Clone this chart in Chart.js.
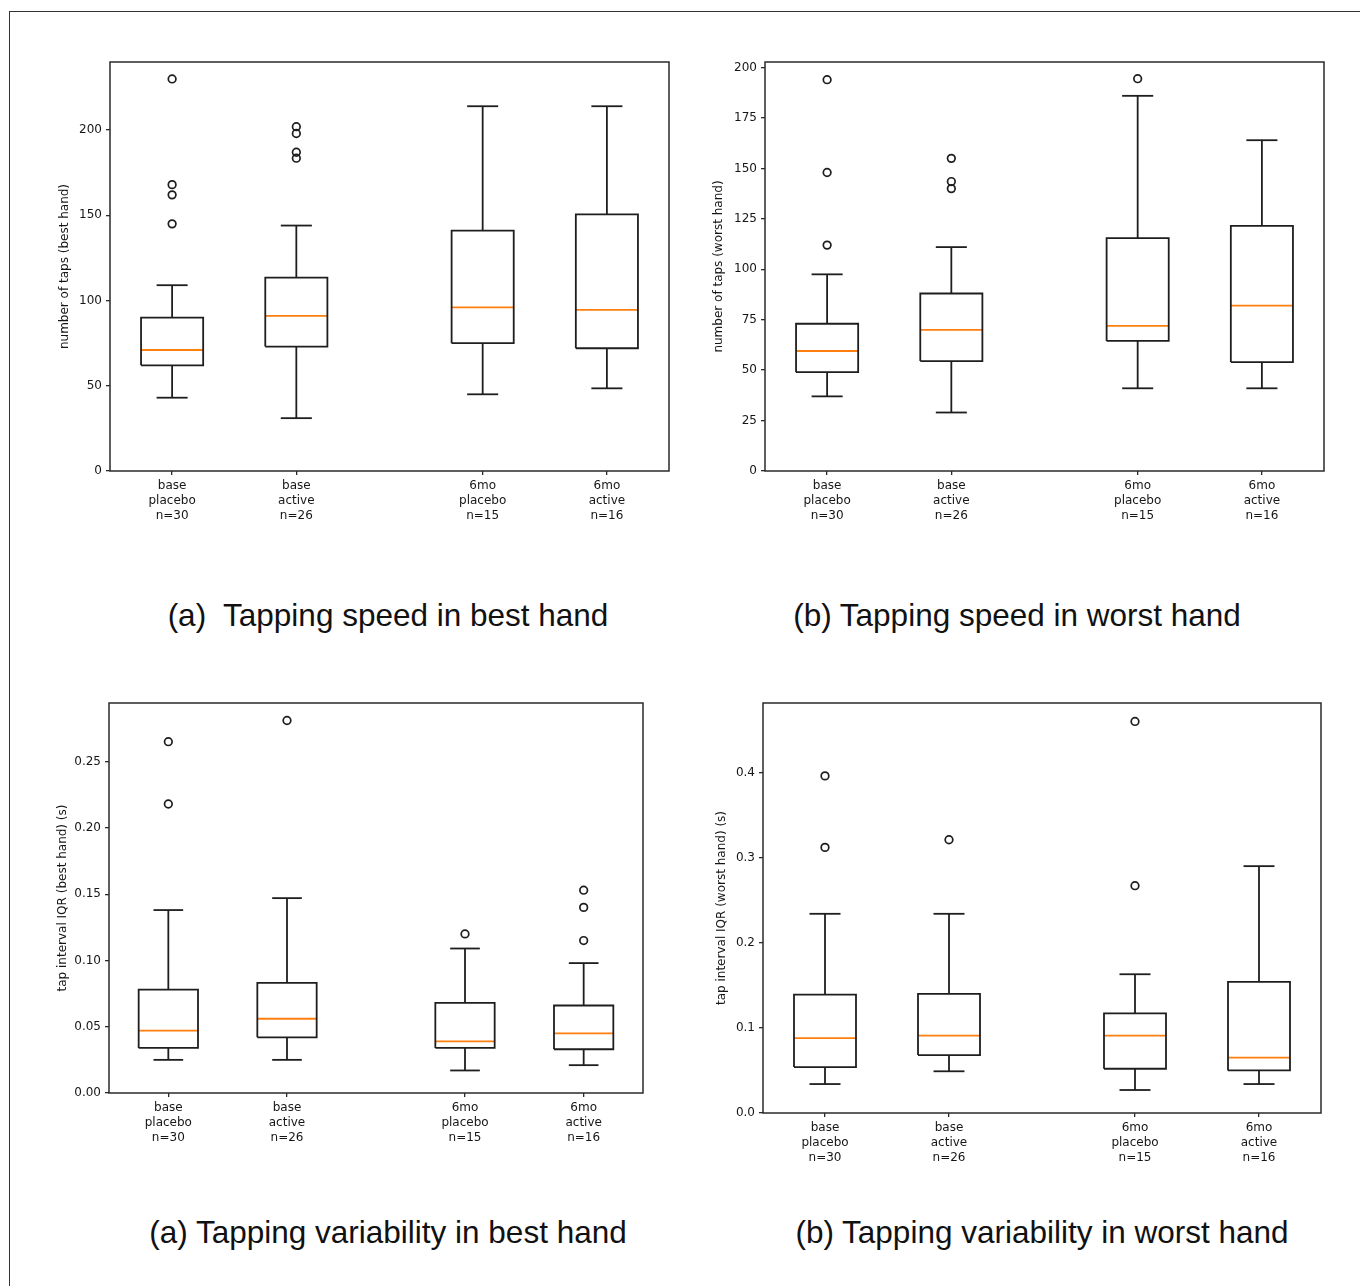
<!DOCTYPE html>
<html><head><meta charset="utf-8">
<script src="https://cdn.jsdelivr.net/npm/chart.js@4.4.0/dist/chart.umd.min.js"></script>
<style>
html,body{margin:0;padding:0;background:#fff}
body{width:1360px;height:1286px;overflow:hidden;position:relative;font-family:"Liberation Sans",Arial,sans-serif}
#frame{position:absolute;left:9px;top:11px;width:1400px;height:1400px;border-top:1.5px solid #333;border-left:1.5px solid #333}
.cap{position:absolute;width:700px;text-align:center;font-size:31.5px;line-height:36px;color:#111;white-space:pre}
canvas{position:absolute}
</style></head><body>
<div id="frame"></div>
<canvas id="c0"></canvas><canvas id="c1"></canvas><canvas id="c2"></canvas><canvas id="c3"></canvas>
<div class="cap" style="left:38px;top:597px">(a)  Tapping speed in best hand</div>
<div class="cap" style="left:667px;top:597px">(b) Tapping speed in worst hand</div>
<div class="cap" style="left:38px;top:1214px">(a) Tapping variability in best hand</div>
<div class="cap" style="left:692px;top:1214px">(b) Tapping variability in worst hand</div>
<script>
// ---- categories ----
const positions = [1, 2, 3.5, 4.5];
const groupTime = ['base', 'base', '6mo', '6mo'];
const groupArm  = ['placebo', 'active', 'placebo', 'active'];
const groupN    = [30, 26, 15, 16];

// ---- (a) tapping speed, best hand ----
const speedBestLo  = [43, 31, 45, 48.5];
const speedBestQ1  = [62, 73, 75, 72];
const speedBestMed = [71, 91, 96, 94.5];
const speedBestQ3  = [90, 113.5, 141, 150.5];
const speedBestHi  = [109, 144, 214, 214];
const speedBestOut = [[230, 168, 162, 145], [202, 198, 187, 183.5], [], []];
const speedBestTicks = [0, 50, 100, 150, 200];

// ---- (b) tapping speed, worst hand ----
const speedWorstLo  = [37, 29, 41, 41];
const speedWorstQ1  = [49, 54.5, 64.5, 54];
const speedWorstMed = [59.5, 70, 72, 82];
const speedWorstQ3  = [73, 88, 115.5, 121.5];
const speedWorstHi  = [97.5, 111, 186, 164];
const speedWorstOut = [[194, 148, 112], [155, 143.5, 140], [194.5], []];
const speedWorstTicks = [0, 25, 50, 75, 100, 125, 150, 175, 200];

// ---- (a) tapping variability, best hand ----
const varBestLo  = [0.025, 0.025, 0.017, 0.021];
const varBestQ1  = [0.034, 0.042, 0.034, 0.033];
const varBestMed = [0.047, 0.056, 0.039, 0.045];
const varBestQ3  = [0.078, 0.083, 0.068, 0.066];
const varBestHi  = [0.138, 0.147, 0.109, 0.098];
const varBestOut = [[0.265, 0.218], [0.281], [0.120], [0.153, 0.140, 0.115]];
const varBestTicks = [0, 0.05, 0.10, 0.15, 0.20, 0.25];

// ---- (b) tapping variability, worst hand ----
const varWorstLo  = [0.034, 0.049, 0.027, 0.034];
const varWorstQ1  = [0.054, 0.068, 0.052, 0.050];
const varWorstMed = [0.088, 0.091, 0.091, 0.065];
const varWorstQ3  = [0.139, 0.140, 0.117, 0.154];
const varWorstHi  = [0.234, 0.234, 0.163, 0.290];
const varWorstOut = [[0.396, 0.312], [0.321], [0.460, 0.267], []];
const varWorstTicks = [0, 0.1, 0.2, 0.3, 0.4];

const panels = [
  {id:'c0', area:{l:110,t:62,r:669,b:471}, lo:speedBestLo, q1:speedBestQ1, med:speedBestMed, q3:speedBestQ3, hi:speedBestHi, out:speedBestOut, ticks:speedBestTicks, dec:0, title:'number of taps (best hand)', titleOff:25},
  {id:'c1', area:{l:765,t:62,r:1324,b:471}, lo:speedWorstLo, q1:speedWorstQ1, med:speedWorstMed, q3:speedWorstQ3, hi:speedWorstHi, out:speedWorstOut, ticks:speedWorstTicks, dec:0, title:'number of taps (worst hand)', titleOff:24},
  {id:'c2', area:{l:109,t:703,r:643,b:1093}, lo:varBestLo, q1:varBestQ1, med:varBestMed, q3:varBestQ3, hi:varBestHi, out:varBestOut, ticks:varBestTicks, dec:2, title:'tap interval IQR (best hand) (s)', titleOff:23.7},
  {id:'c3', area:{l:763,t:703,r:1321,b:1113}, lo:varWorstLo, q1:varWorstQ1, med:varWorstMed, q3:varWorstQ3, hi:varWorstHi, out:varWorstOut, ticks:varWorstTicks, dec:1, title:'tap interval IQR (worst hand) (s)', titleOff:29.3}
];

const LINE = '#1e1e1e';
const MED = '#ff7f0e';
const HW = 0.25, CAP = 0.125;
const PADL = 70, PADT = 20, PADR = 20, PADB = 70;

const framePlugin = {
  id: 'frame',
  afterDatasetsDraw(chart) {
    const {ctx, chartArea: a} = chart;
    ctx.save();
    ctx.strokeStyle = '#2a2a2a';
    ctx.lineWidth = 1.5;
    ctx.strokeRect(a.left, a.top, a.right - a.left, a.bottom - a.top);
    ctx.restore();
  }
};

function lineDs(pts, color) {
  return {type:'scatter', data:pts, showLine:true, borderColor:color, borderWidth:1.8,
          pointRadius:0, pointHoverRadius:0, fill:false, tension:0, spanGaps:false};
}

panels.forEach(p => {
  const cv = document.getElementById(p.id);
  const w = p.area.r - p.area.l + PADL + PADR;
  const h = p.area.b - p.area.t + PADT + PADB;
  cv.width = w; cv.height = h;
  cv.style.left = (p.area.l - PADL) + 'px';
  cv.style.top = (p.area.t - PADT) + 'px';
  cv.style.width = w + 'px'; cv.style.height = h + 'px';

  const datasets = [];
  positions.forEach((x, i) => {
    datasets.push(lineDs([
      {x:x-HW, y:p.q1[i]}, {x:x+HW, y:p.q1[i]}, {x:x+HW, y:p.q3[i]}, {x:x-HW, y:p.q3[i]}, {x:x-HW, y:p.q1[i]}
    ], LINE));
    datasets.push(lineDs([{x:x, y:p.q3[i]}, {x:x, y:p.hi[i]}], LINE));
    datasets.push(lineDs([{x:x-CAP, y:p.hi[i]}, {x:x+CAP, y:p.hi[i]}], LINE));
    datasets.push(lineDs([{x:x, y:p.q1[i]}, {x:x, y:p.lo[i]}], LINE));
    datasets.push(lineDs([{x:x-CAP, y:p.lo[i]}, {x:x+CAP, y:p.lo[i]}], LINE));
    datasets.push(lineDs([{x:x-HW, y:p.med[i]}, {x:x+HW, y:p.med[i]}], MED));
    if (p.out[i].length) {
      datasets.push({type:'scatter', data:p.out[i].map(v => ({x:x, y:v})), showLine:false,
        pointStyle:'circle', pointRadius:3.8, pointBorderWidth:1.7, pointBorderColor:LINE,
        pointBackgroundColor:'rgba(0,0,0,0)', pointHoverRadius:3.8});
    }
  });

  // matplotlib-style autoscale: 5% margin above data, bottom fixed at 0
  const allVals = [].concat(p.lo, p.hi, ...p.out);
  const dMax = Math.max(...allVals), dMin = Math.min(...allVals);
  const yMax = dMax + 0.05 * (dMax - dMin);

  new Chart(cv, {
    type: 'scatter',
    data: {datasets},
    options: {
      responsive: false, animation: false, devicePixelRatio: 1,
      layout: {padding: {left:0, top:PADT, right:PADR, bottom:0}},
      plugins: {legend:{display:false}, tooltip:{enabled:false}},
      scales: {
        x: {
          type: 'linear', min: positions[0] - 0.5, max: positions[positions.length-1] + 0.5,
          afterBuildTicks: s => { s.ticks = positions.map(v => ({value:v})); },
          afterFit: s => { s.height = PADB; },
          border: {display:false},
          grid: {drawOnChartArea:false, drawTicks:true, tickLength:4, color:'#2a2a2a', lineWidth:1.3},
          ticks: {
            padding: 3, color:'#161616', maxRotation:0, autoSkip:false,
            font: {family:'"DejaVu Sans", sans-serif', size:12, lineHeight:1.25},
            callback: v => {
              const i = positions.indexOf(v);
              return i < 0 ? '' : [groupTime[i], groupArm[i], 'n=' + groupN[i]];
            }
          }
        },
        y: {
          type: 'linear', min: 0, max: yMax,
          afterBuildTicks: s => { s.ticks = p.ticks.map(v => ({value:v})); },
          afterFit: s => { s.width = PADL; },
          border: {display:false},
          grid: {drawOnChartArea:false, drawTicks:true, tickLength:4, color:'#2a2a2a', lineWidth:1.3},
          ticks: {
            padding: 4, color:'#161616', autoSkip:false,
            font: {family:'"DejaVu Sans", sans-serif', size:12},
            callback: v => Number(v).toFixed(p.dec)
          },
          title: {
            display: true, text: p.title, color:'#161616',
            font: {family:'"DejaVu Sans", sans-serif', size:12, lineHeight:1.2},
            padding: {top: p.titleOff - 7.2, bottom: 0}
          }
        }
      }
    },
    plugins: [framePlugin]
  });
});
</script>
</body></html>
